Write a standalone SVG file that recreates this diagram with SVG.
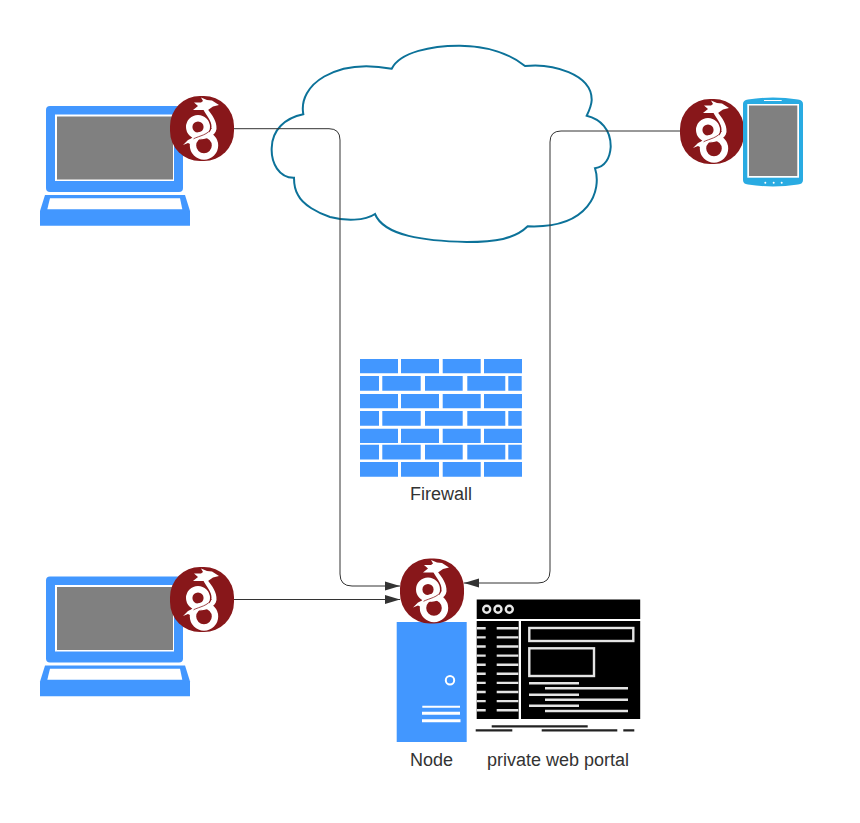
<svg xmlns="http://www.w3.org/2000/svg" xmlns:xlink="http://www.w3.org/1999/xlink" width="860" height="823" viewBox="0 0 860 823">
<style>
.lbl{font-family:"Liberation Sans",Arial,sans-serif;font-size:18px;fill:#333;text-anchor:middle}
.blue{fill:#4297ff}
.gray{fill:#808080}
.conn{fill:none;stroke:#333;stroke-width:1}
.wl{stroke:#fff;fill:none}
.pl{stroke:#e4e4e4;stroke-width:2.400;fill:none}
.pd{stroke:#222;stroke-width:2.200;fill:none}
</style>
<defs>
<marker id="arrow" markerUnits="userSpaceOnUse" markerWidth="16" markerHeight="10" refX="15" refY="5" orient="auto"><path d="M0 .5L15 5L0 9.500z" fill="#333"/></marker>
<symbol id="wg" width="64" height="65" viewBox="0 0 64 65" overflow="visible">
<rect width="64" height="65" rx="30" fill="#88171a"/>
<g class="wl">
<circle cx="28" cy="31" r="8.800" stroke-width="6.400"/>
<circle cx="34" cy="49.500" r="11" stroke-width="6.400"/>
</g>
<path d="M33 13L37.500 13C42 19 47 25 46.500 33C45.500 40 37 43 29 43.500C36 40 41 37 41.500 31C42 25 36 19 33 13z" fill="#fff"/>
<path d="M23 43C30 39.500 38 39 41.500 32" fill="none" stroke="#88171a" stroke-width=".8"/>
<path d="M31 1.500L37 4L42 4.500L49 9L43 10.500L38 14H23L28 10L24 6.500L31 6.500L33 5z" fill="#fff"/>
<path d="M13 49L18 44L24 41L22 49L18 47z" fill="#fff"/>
</symbol>
<g id="laptop-art">
<rect class="blue" x="46" y="106" width="137" height="86" rx="4"/>
<rect x="55" y="114.500" width="119" height="66.500" fill="#fff"/>
<rect class="gray" x="57" y="116.500" width="116" height="63"/>
<path class="blue" d="M45 195H185L190 211V225.700H40V211z"/>
<path d="M50 198.300H180L182.300 209.300H47.300z" fill="#fff"/>
</g>
</defs>
<rect width="860" height="823" fill="#fff"/>
<g id="cloud">
<path d="M391.700 68.700C400 52 432 45.500 460 45.700C487 46 510 54 525 66C552 63 592 74 591.700 100C591.500 105 589 111 586.700 115.700C600 119 611 129 610.700 147C610 158 605 167 595 168.300C602 190 590 229 527.700 226.300C515 239 495 242 466.700 242C425 241 384 236 375 214C365 221 345 221 330 217C318 213 303 205 298 195C295 190 294 184 294 177.700C279 178 271 163 271.700 148C272 130 285 118 303.300 114.300C298 85 335 58 391.700 68.700z" fill="none" stroke="#0c7299" stroke-width="2"/>
</g>
<g id="connectors">
<path class="conn" marker-end="url(#arrow)" d="M234 128.700H329Q340 128.700 340 140V574Q340 586 352 586H400"/>
<path class="conn" marker-end="url(#arrow)" d="M680 131H561Q550 131 550 142V571Q550 583 538 583H464"/>
<path class="conn" marker-end="url(#arrow)" d="M234 599.500H400"/>
</g>
<g id="firewall">
<g class="blue">
<path d="M360 359h38v14.300h-38zM401 359h38v14.300h-38zM442.700 359h38v14.300h-38zM484 359h38v14.300h-38z"/>
<path d="M360 376h19v14.700h-19zM382.300 376h38.400v14.700h-38.400zM425 376h37.700v14.700h-37.700zM467.300 376h38v14.700h-38zM508.300 376h13.400v14.700h-13.400z"/>
<path d="M360 394h38v14.300h-38zM401 394h38v14.300h-38zM442.700 394h38v14.300h-38zM484 394h38v14.300h-38z"/>
<path d="M360 411h19v14.700h-19zM382.300 411h38.400v14.700h-38.400zM425 411h37.700v14.700h-37.700zM467.300 411h38v14.700h-38zM508.300 411h13.400v14.700h-13.400z"/>
<path d="M360 428.700h38v14.300h-38zM401 428.700h38v14.300h-38zM442.700 428.700h38v14.300h-38zM484 428.700h38v14.300h-38z"/>
<path d="M360 444.700h19v14.700h-19zM382.300 444.700h38.400v14.700h-38.400zM425 444.700h37.700v14.700h-37.700zM467.300 444.700h38v14.700h-38zM508.300 444.700h13.400v14.700h-13.400z"/>
<path d="M360 462h38v14.700h-38zM401 462h38v14.700h-38zM442.700 462h38v14.700h-38zM484 462h38v14.700h-38z"/>
</g>
<text class="lbl" x="441" y="499.500">Firewall</text>
</g>
<g id="laptop-top">
<use xlink:href="#laptop-art" href="#laptop-art"/>
<use xlink:href="#wg" href="#wg" x="170" y="96"/>
</g>
<g id="tablet">
<use xlink:href="#wg" href="#wg" x="680" y="99"/>
<path d="M743 104Q743 100 748 99.500Q773 95.500 798 99.500Q803 100 803 104V180Q803 184 798 184.500Q773 188.500 748 184.500Q743 184 743 180z" fill="#29abe2"/>
<rect x="747.300" y="104" width="51.700" height="73.700" fill="#fff"/>
<rect class="gray" x="749" y="105.500" width="48.300" height="70.500"/>
<path d="M764 100.500H781.700" stroke="#fff" stroke-width="1"/>
<g fill="#fff"><circle cx="765.300" cy="182.700" r="1"/><circle cx="773.700" cy="182.700" r="1"/><circle cx="781.700" cy="182.700" r="1"/></g>
</g>
<g id="laptop-bottom">
<use xlink:href="#laptop-art" href="#laptop-art" y="470.500"/>
<use xlink:href="#wg" href="#wg" x="170" y="567"/>
</g>
<g id="node">
<rect class="blue" x="396.700" y="622" width="70" height="120"/>
<use xlink:href="#wg" href="#wg" x="400" y="558.500"/>
<circle cx="450" cy="680.300" r="4.200" fill="none" stroke="#fff" stroke-width="2"/>
<path d="M422.300 706.700H460" stroke="#fff" stroke-width="2"/>
<path d="M422 713.300H460M422 720.700H460.500" stroke="#fff" stroke-width="3"/>
<text class="lbl" x="431.500" y="765.500">Node</text>
</g>
<g id="portal">
<rect x="476.700" y="599.500" width="163.500" height="19.500"/>
<g fill="none" stroke="#e8e8e8" stroke-width="2.400"><circle cx="486.700" cy="609.300" r="3.500"/><circle cx="498" cy="609.300" r="3.500"/><circle cx="509.300" cy="609.300" r="3.500"/></g>
<rect x="476.700" y="621" width="42" height="98"/>
<rect x="521" y="621" width="119.200" height="98"/>
<path class="pl" d="M476.700 628.300h9M496.700 628.300h21.600M476.700 637.400h9M496.700 637.400h21.600M476.700 646.500h9M496.700 646.500h21.600M476.700 655.600h9M496.700 655.600h21.600M476.700 664.700h9M496.700 664.700h21.600M476.700 673.800h9M496.700 673.800h21.600M476.700 682.900h9M496.700 682.900h21.600M476.700 692h9M496.700 692h21.600M476.700 701.100h9M496.700 701.100h21.600M476.700 710.300h9M496.700 710.300h21.600"/>
<rect class="pl" x="529.300" y="628" width="104" height="13"/>
<rect class="pl" x="529.300" y="648.300" width="64.700" height="27.700"/>
<path class="pl" d="M529 683.300h50M545 688.300h83M529 694.700h50M545 699.700h83M529 705.700h50M545 711h83"/>
<path class="pd" d="M491.700 726.300h96M475.700 730.300h36.600M541.700 730.300h75.600M623.300 730.300h11"/>
<text class="lbl" x="558" y="765.500">private web portal</text>
</g>
</svg>
